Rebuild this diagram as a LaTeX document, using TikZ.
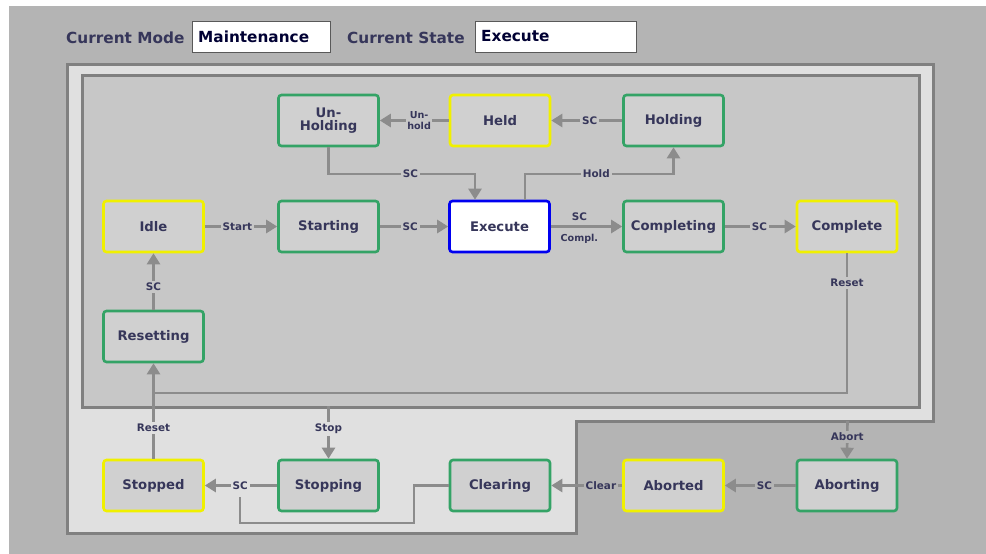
\documentclass[tikz,border=0pt]{standalone}
\usepackage{fontspec}
\setmainfont{DejaVu Sans}
\usetikzlibrary{arrows.meta}
\definecolor{bgray}{HTML}{B4B4B4}
\definecolor{outerfill}{HTML}{E0E0E0}
\definecolor{innerfill}{HTML}{C7C7C7}
\definecolor{boxfill}{HTML}{D0D0D0}
\definecolor{frameline}{HTML}{808080}
\definecolor{conncol}{HTML}{8C8C8C}
\definecolor{txtcol}{HTML}{36365A}
\definecolor{grn}{HTML}{34A366}
\definecolor{ylw}{HTML}{F0F000}
\definecolor{blu}{HTML}{0000F0}
\begin{document}
\begin{tikzpicture}[x=1pt,y=-1pt,
  state/.style={rectangle, rounded corners=3pt, line width=2.6pt, fill=boxfill,
    minimum width=100pt, minimum height=51pt, inner sep=0pt, text=txtcol,
    font=\fontsize{13.2}{15}\selectfont\bfseries, align=center},
  activestate/.style={state, draw=grn},
  waitstate/.style={state, draw=ylw},
  curstate/.style={state, draw=blu, fill=white},
  conn/.style={draw=conncol, line width=2.6pt, -{Triangle[length=11pt,width=13pt]}},
  plainconn/.style={draw=conncol, line width=2.6pt},
  lbl/.style={font=\fontsize{10.4}{11}\selectfont\bfseries, text=txtcol, inner sep=2pt, fill=innerfill},
  lblo/.style={lbl, fill=outerfill},
  lblb/.style={lbl, fill=bgray},
  hdr/.style={font=\fontsize{15.3}{17}\selectfont\bfseries, text=txtcol, inner sep=0pt, anchor=west},
  hbox/.style={draw=black!65, line width=0.9pt, fill=white, minimum height=31pt, inner sep=0pt, anchor=west}
]
\useasboundingbox (0,0) rectangle (986,554);
% background
\fill[white] (0,0) rectangle (986,554);
\fill[bgray] (9,6) rectangle (986,554);
% header
\node[hdr] (modelbl) at (66,38) {Current Mode};
\node[hbox, minimum width=138pt] (modebox) at (192,36.5) {};
\node[hdr, font=\fontsize{15.3}{17}\selectfont\bfseries, text=black!80!blue] (modeval) at (198,36.5) {Maintenance};
\node[hdr] (statelbl) at (347,38) {Current State};
\node[hbox, minimum width=161pt] (statebox) at (475,36.5) {};
\node[hdr, text=black!80!blue] (stateval) at (481,36.5) {Execute};
% frames
\draw[frameline, line width=3pt, fill=outerfill]
  (67.5,64.5) -- (933.5,64.5) -- (933.5,421) -- (576,421) -- (576,533) -- (67.5,533) -- cycle;
\draw[frameline, line width=3pt, fill=innerfill] (82,75) rectangle (919.5,407.5);
% states
\node[activestate] (unholding) at (328.5,120.5) {Un-\\[-2pt]Holding};
\node[waitstate] (held) at (500,120.5) {Held};
\node[activestate] (holding) at (673.5,120.5) {Holding};
\node[waitstate] (idle) at (153.5,226.5) {Idle};
\node[activestate] (starting) at (328.5,226.5) {Starting};
\node[curstate] (execute) at (499.5,226.5) {Execute};
\node[activestate] (completing) at (673.5,226.5) {Completing};
\node[waitstate] (complete) at (847,226.5) {Complete};
\node[activestate] (resetting) at (153.5,336.5) {Resetting};
\node[waitstate] (stopped) at (153.5,485.5) {Stopped};
\node[activestate] (stopping) at (328.5,485.5) {Stopping};
\node[activestate] (clearing) at (500,485.5) {Clearing};
\node[waitstate] (aborted) at (673.5,485.5) {Aborted};
\node[activestate] (aborting) at (847,485.5) {Aborting};
% free ends
\coordinate (stopsrc) at (328.5,406);
\coordinate (abortsrc) at (847.5,421);
\coordinate (scjoin) at (240,497);
% connectors
\draw[conn] (held) -- node[lbl, pos=0.43, align=center, font=\fontsize{9.6}{10.5}\selectfont\bfseries, inner sep=1pt]{Un-\\hold} (unholding);
\draw[conn] (holding) -- node[lbl, pos=0.46]{SC} (held);
\draw[conn] (unholding.south) |- node[lbl, pos=0.78]{SC} (475,174) -- (475,174 |- execute.north);
\draw[conn] (525,0 |- execute.north) |- node[lbl, pos=0.74]{Hold} (673.5,174) -- (holding.south);
\draw[conn] (idle) -- node[lbl, pos=0.45]{Start} (starting);
\draw[conn] (starting) -- node[lbl, pos=0.445]{SC} (execute);
\draw[conn] (execute) -- node[lbl, fill=none, pos=0.4, above=3pt]{SC} node[lbl, fill=none, pos=0.4, below=4pt, font=\fontsize{9.6}{10.5}\selectfont\bfseries]{Compl.} (completing);
\draw[conn] (completing) -- node[lbl, pos=0.49]{SC} (complete);
\draw[conn] (complete.south) -- node[lbl, pos=0.21]{Reset} (847,393) -| (resetting.south);
\draw[conn] (resetting) -- node[lbl, pos=0.4]{SC} (idle);
\draw[plainconn] (stopped.north) -- node[lblo, pos=0.47]{Reset} (153.5,393);
\draw[conn] (stopsrc) -- node[lblo, pos=0.43]{Stop} (stopping.north);
\draw[conn] (stopping) -- node[lblo, pos=0.51]{SC} (stopped);
\draw[plainconn] (clearing.west) -- (414,485.5) -- (414,523) -- (240,523) -- (scjoin);
\draw[conn] (aborted) -- node[lblb, pos=0.3]{Clear} (clearing);
\draw[conn] (aborting) -- node[lblb, pos=0.44]{SC} (aborted);
\draw[conn] (abortsrc) -- node[lblb, pos=0.42]{Abort} (aborting.north);
\end{tikzpicture}
\end{document}
